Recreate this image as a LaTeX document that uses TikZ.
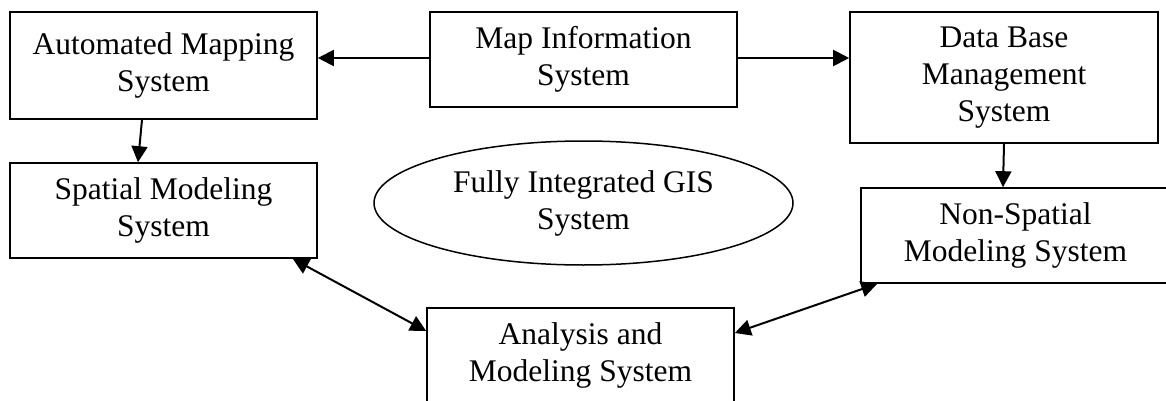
\documentclass[tikz,border=0pt]{standalone}
\usepackage{fontspec}
\setmainfont{Liberation Serif}
\usetikzlibrary{arrows.meta,calc,shapes.geometric}
\tikzset{
  sysbox/.style={draw, line width=1.6pt, rectangle, inner sep=0pt, align=center,
    font=\fontsize{31.5}{37}\selectfont},
  tipA/.style={},
  arr/.style={line width=2pt, -{Triangle[length=16pt,width=16pt]}},
  dblarr/.style={line width=2pt, {Triangle[length=16pt,width=16pt]}-{Triangle[length=16pt,width=16pt]}}
}
\begin{document}
\begin{tikzpicture}[x=1pt,y=-1pt]
\useasboundingbox (0,0) rectangle (1166,401);
\clip (0,0) rectangle (1166,401);
\fill[white] (0,0) rectangle (1166,401);
% boxes (pixel coordinates of centres)
\node[sysbox, minimum width=307pt, minimum height=107pt] (ams) at (163.5,65.5) {Automated Mapping\\System};
\node[sysbox, minimum width=307pt, minimum height=95pt] (mis) at (583.5,59.5) {Map Information\\System};
\node[sysbox, minimum width=308pt, minimum height=131pt] (db) at (1004,77.5) {Data Base\\Management\\System};
\node[sysbox, minimum width=307pt, minimum height=95pt] (sms) at (163.5,210.5) {Spatial Modeling\\System};
\node[sysbox, minimum width=309pt, minimum height=95pt] (ns) at (1015.5,235.5) {Non-Spatial\\Modeling System};
\node[sysbox, minimum width=307pt, minimum height=95pt] (ana) at (580.5,355.5) {Analysis and\\Modeling System};
\node[draw, line width=1.5pt, ellipse, inner sep=0pt, minimum width=419pt, minimum height=124pt,
  align=center, font=\fontsize{31.5}{37}\selectfont] (gis) at (583.5,203) {Fully Integrated GIS\\System};
% connectors
\draw[arr] ([yshift=1.5pt]mis.west) -- ([yshift=1.5pt]mis.west -| ams.east);
\draw[arr] ([yshift=1.5pt]mis.east) -- ([yshift=1.5pt]mis.east -| db.west);
\draw[arr] ([xshift=-21.5pt]ams.south) -- ([xshift=-25.5pt]sms.north);
\draw[arr] (db.south) -- ([xshift=-12.5pt]ns.north);
\draw[dblarr] ([xshift=-25pt]sms.south east) -- ([yshift=24.5pt]ana.west);
\draw[dblarr] ([yshift=22.5pt]ana.east) -- ([xshift=17pt]ns.south west);
\end{tikzpicture}
\end{document}
